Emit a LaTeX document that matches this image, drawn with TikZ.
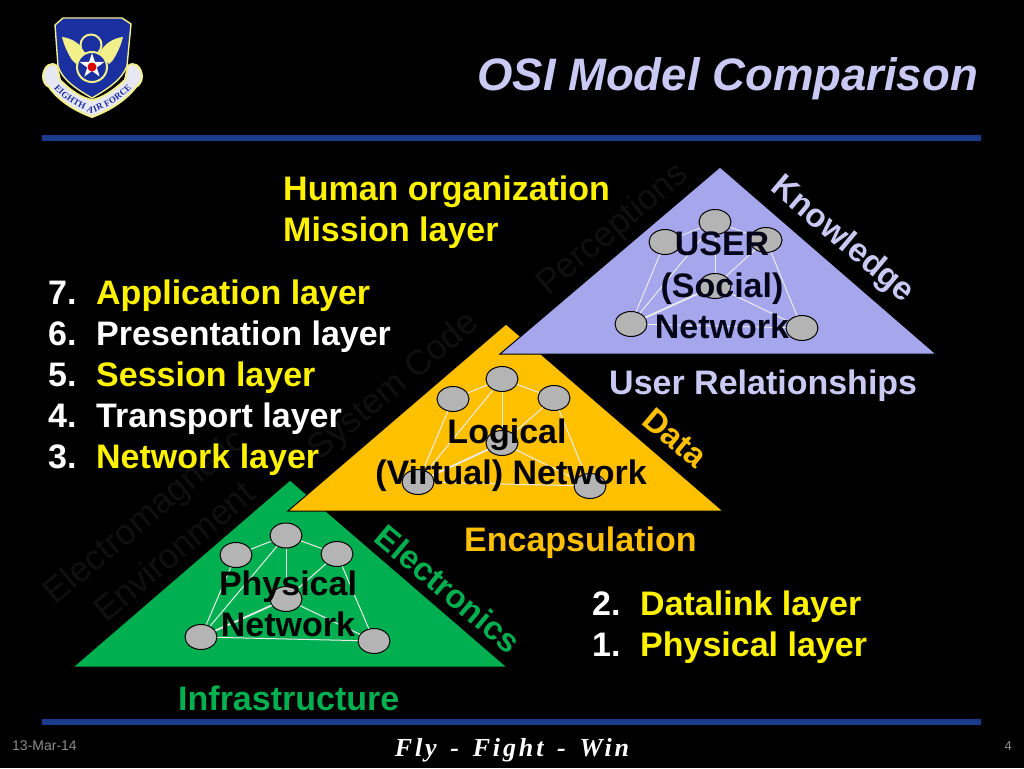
\documentclass[tikz,border=0pt]{standalone}
\usepackage{fontspec}
\setmainfont{Liberation Sans}
\newfontfamily\serifbi{Liberation Serif}
\usetikzlibrary{shapes.geometric,decorations.text}
\definecolor{barblue}{HTML}{1B3A8C}
\definecolor{shieldblue}{HTML}{1A2FA0}
\definecolor{pale}{HTML}{F2F08A}
\definecolor{scrollin}{HTML}{E8E8F4}
\definecolor{lilac}{HTML}{A6A6EC}
\definecolor{lilactext}{HTML}{C9C9F4}
\definecolor{amber}{HTML}{FFC000}
\definecolor{leaf}{HTML}{00B050}
\definecolor{nodegrey}{HTML}{B4B4B4}
\definecolor{faint}{HTML}{101010}
\definecolor{inkdark}{HTML}{05051A}
\newcommand{\fsz}[1]{\fontsize{#1}{#1}\selectfont}
\tikzset{
  tri/.style={draw=black,line width=1pt},
  bar/.style={fill=barblue},
  wordy/.style={inner sep=0,font=\bfseries\fsz{34}},
  listitem/.style={wordy,anchor=base west},
  intri/.style={wordy,text=black,anchor=base},
  slanted/.style={wordy,font=\bfseries\fsz{33},rotate=#1},
  ghost/.style={inner sep=0,text=faint,font=\fsz{35},rotate=40},
  host/.style={ellipse,draw=black,line width=1pt,fill=nodegrey,minimum width=32pt,minimum height=25pt,inner sep=0},
  link/.style={draw=white!92!black,line width=1pt},
  heavy/.style={draw=white!92!black,line width=1.8pt}
}
\newcommand{\netw}[7]{%
  \node[host] (#1t) at #2 {};
  \node[host] (#1l) at #3 {};
  \node[host] (#1r) at #4 {};
  \node[host] (#1m) at #5 {};
  \node[host] (#1a) at #6 {};
  \node[host] (#1b) at #7 {};
  \draw[link] (#1t) -- (#1l);
  \draw[link] (#1t) -- (#1r);
  \draw[link] (#1t) -- (#1m);
  \draw[link] (#1t) -- (#1a);
  \draw[link] (#1l) -- (#1a);
  \draw[link] (#1r) -- (#1b);
  \draw[link] (#1r) -- (#1m);
  \draw[heavy] (#1m) -- (#1a);
  \draw[link] (#1m) -- (#1b);
  \draw[link] (#1a) -- (#1b);
}
\begin{document}
\begin{tikzpicture}[x=1pt,y=-1pt]
\useasboundingbox (0,0) rectangle (1024,768);
\fill[black] (0,0) rectangle (1024,768);

% faint background words
\node[ghost] (gp) at (613,230) {Perceptions};
\node[ghost] (gs) at (394,387) {System Code};
\node[ghost] (ge) at (146,518) {Electromagnetic};
\node[ghost] (gn) at (174,551) {Environment};

% emblem
\draw[pale,line width=2pt,fill=scrollin] (43,76) .. controls (44,66) and (51,61) .. (57,66) -- (60,80) .. controls (72,92) and (82,98) .. (92,100) .. controls (102,98) and (112,92) .. (125,80) -- (128,66) .. controls (134,61) and (141,66) .. (142,76) .. controls (142,82) and (139,85) .. (136,87) .. controls (124,102) and (108,111) .. (92,117) .. controls (76,111) and (60,102) .. (49,87) .. controls (45,85) and (43,81) .. (43,76) -- cycle;
\draw[pale,line width=1.4pt,fill=shieldblue] (55,25) -- (63,18) -- (122,18) -- (131,24) -- (127,66) .. controls (122,80) and (106,90) .. (92,98) .. controls (78,90) and (62,80) .. (58,66) -- cycle;
\fill[pale] (62,37) .. controls (72,38) and (81,44) .. (86,54) -- (82,58) -- (76,64) -- (72,60) .. controls (67,52) and (64,45) .. (62,37) -- cycle;
\fill[pale] (123,37) .. controls (113,38) and (104,44) .. (99,54) -- (103,58) -- (109,64) -- (113,60) .. controls (118,52) and (121,45) .. (123,37) -- cycle;
\draw[pale,line width=2pt,fill=shieldblue] (91,45) circle (10.5);
\draw[pale,line width=2pt,fill=shieldblue] (92,67) circle (15);
\node[star,star points=5,star point ratio=2.6,fill=white,minimum size=26pt,inner sep=0] (emstar) at (92,66) {};
\node[circle,fill=red!85!black,minimum size=9pt,inner sep=0] (emcore) at (92,67) {};
\path[postaction={decorate,decoration={text along path,text align=center,raise=-3pt,
   text={|\serifbi\bfseries\fsz{9}\color{shieldblue}|EIGHTH AIR FORCE}}}]
   (53,82) .. controls (63,96) and (78,105) .. (92,110) .. controls (106,105) and (122,96) .. (133,82);

% triangles
\draw[tri,fill=leaf] (290,480) -- (507,667) -- (73,667) -- cycle;
\draw[tri,fill=amber] (506,324) -- (723,511) -- (288,511) -- cycle;
\draw[tri,fill=lilac] (720,167) -- (936,354) -- (500,354) -- cycle;

% networks
\netw{g}{(286,535.5)}{(236,555)}{(337,554)}{(286,599)}{(201,637)}{(374,641)}
\netw{o}{(502,379)}{(453,399)}{(554,398)}{(502,443)}{(418,482)}{(590,486)}
\netw{p}{(715,222)}{(665,242)}{(766,240)}{(715,286)}{(631,324)}{(802,328)}

% labels in triangles
\node[intri,text=inkdark] (pa) at (722,255) {USER};
\node[intri,text=inkdark] (pb) at (722,297) {(Social)};
\node[intri,text=inkdark] (pc) at (722,338) {Network};
\node[intri] (oa) at (507,443) {Logical};
\node[intri] (ob) at (511,484) {(Virtual) Network};
\node[intri] (ga) at (288,595) {Physical};
\node[intri] (gb) at (288,636) {Network};

% slanted labels
\node[slanted=-40,text=lilactext] (kn) at (842,240) {Knowledge};
\node[slanted=-40,text=amber] (da) at (675,438) {Data};
\node[slanted=-40,text=leaf] (el) at (448,589) {Electronics};

% captions
\node[listitem,text=lilactext] (ur) at (609,394) {User Relationships};
\node[listitem,text=amber] (en) at (464,551) {Encapsulation};
\node[listitem,text=leaf] (inf) at (178,710) {Infrastructure};

\node[listitem,text=yellow] (h1) at (283,200) {Human organization};
\node[listitem,text=yellow] (h2) at (283,241) {Mission layer};

\node[listitem,text=white] (n7) at (48,304) {7.};
\node[listitem,text=yellow] (t7) at (96,304) {Application layer};
\node[listitem,text=white] (n6) at (48,345) {6.};
\node[listitem,text=white] (t6) at (96,345) {Presentation layer};
\node[listitem,text=white] (n5) at (48,386) {5.};
\node[listitem,text=yellow] (t5) at (96,386) {Session layer};
\node[listitem,text=white] (n4) at (48,427) {4.};
\node[listitem,text=white] (t4) at (96,427) {Transport layer};
\node[listitem,text=white] (n3) at (48,468) {3.};
\node[listitem,text=yellow] (t3) at (96,468) {Network layer};
\node[listitem,text=white] (n2) at (592,615) {2.};
\node[listitem,text=yellow] (t2) at (640,615) {Datalink layer};
\node[listitem,text=white] (n1) at (592,656) {1.};
\node[listitem,text=yellow] (t1) at (640,656) {Physical layer};

% title and furniture
\node[inner sep=0,anchor=base east,text=lilactext,font=\bfseries\itshape\fsz{45.5}] (title) at (978,90) {OSI Model Comparison};
\fill[bar] (42,135) rectangle (981,141);
\fill[bar] (42,719) rectangle (981,725);
\node[inner sep=0,anchor=base west,text=white!55!black,font=\fsz{14}] (date) at (12,750) {13-Mar-14};
\node[inner sep=0,anchor=base east,text=white!55!black,font=\fsz{13}] (page) at (1012,750) {4};
\node[inner sep=0,anchor=base,text=white,font=\serifbi\bfseries\itshape\fsz{26}\addfontfeature{LetterSpace=11}] (motto) at (512,756) {Fly\,\ -\,\ Fight\,\ -\,\ Win};
\end{tikzpicture}
\end{document}
